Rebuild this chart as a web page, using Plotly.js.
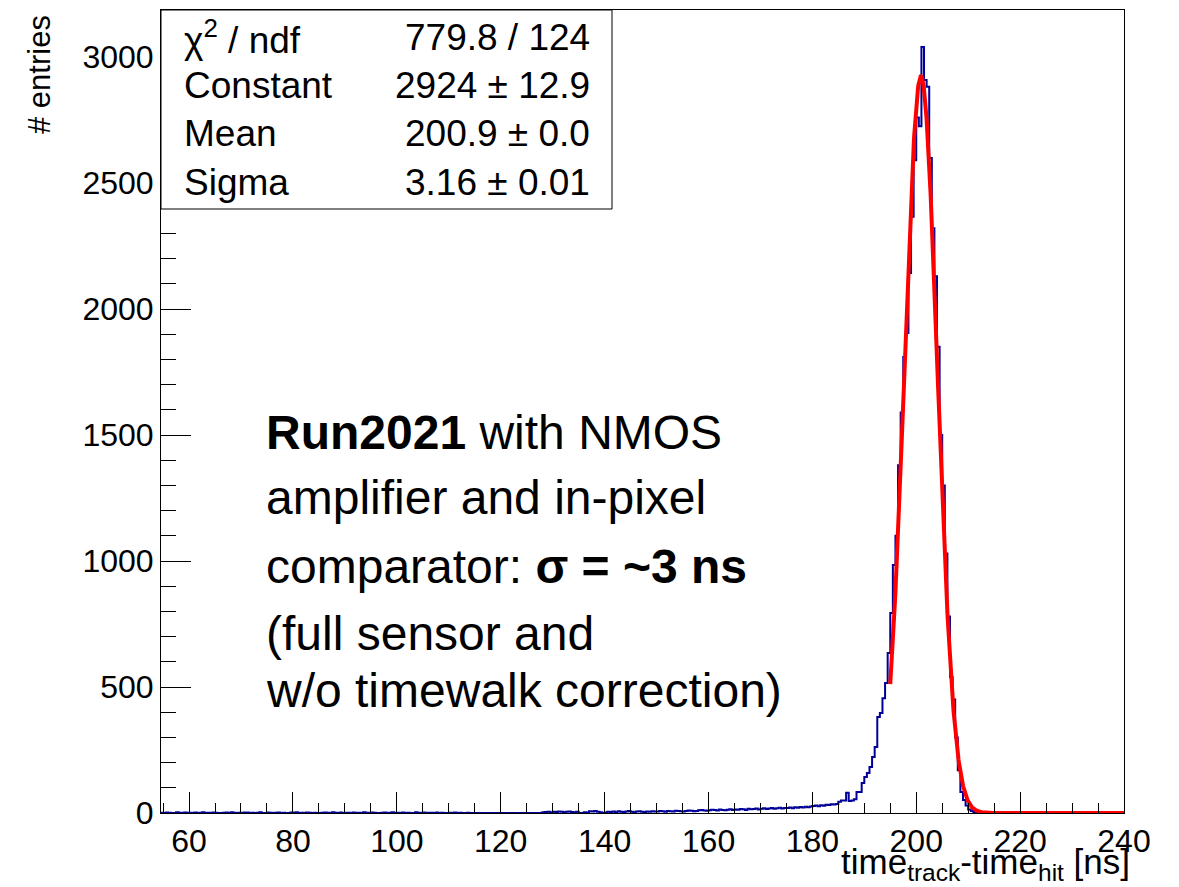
<!DOCTYPE html>
<html>
<head>
<meta charset="utf-8">
<script src="https://cdn.plot.ly/plotly-3.0.1.min.js"></script>
<style>html,body{margin:0;padding:0;background:#fff;}#chart{width:1179px;height:887px;}</style>
</head>
<body>
<div id="chart"></div>
<script>
// ---- data (bin width 0.5 ns; each segment gives its first bin's left edge) ----
const binWidth = 0.5;
const segA_start = 54.5;
const segA = [1,0,2,1,0,0,3,1,0,2, 1,1,0,2,0,1,3,0,1,0, 2,1,0,0,1,2,0,3,1,0, 1,0,2,2,0,1,0,1,3,0, 0,2,1,0,1,2,0,1,0,0, 2,1,3,0,1,0,2,1,0,1, 0,0,1,2,1,0,3,1,0,2, 0,1,1,0,2,0,1,0,3,1, 0,2,1,0,0,1,2,0,1,3, 0];
const segB_start = 100;
const segB = [1,0,2,0,1,0,0,3,1,0, 2,0,1,1,0,2,0,1,0,0, 1,0,2,0,1,0,0,1,0,0, 0,0,0,0,0,0,0,0,0,0, 0,0,0,0,0,0,0,0,0,0, 0,0,0,0,0,0,3,4,5,2];
const segC_start = 130;
const segC = [5,4,6,5,3,5,6,4,2,5, 0,0,3,2,7,6,8,5,3,0, 2,5,4,6,3,7,5,4,6,8, 5,3,6,7,5,4,6,5,7,6];
const segD_start = 150;
const segD = [6,8,7,5,8,7,6,9,8,7, 6,8,10,9,7,8,11,12,10,9, 11,13,12,10,14,12,11,13,15,12];
const segE_start = 165;
const segE = [14,13,16,15,12,17,15,16,18,14, 17,19,16,18,20,17,19,21,18,20];
const segF_start = 175;
const segF = [20,22,19,23,21,24,22,25,23,26, 28,30,27,31,29,33,32,35,34,36];
const segG_start = 185;
const segG = [45,50,50,80,48,50,55,83,83,119, 143,159,183,222,262,381,397,455,516,635];
const segH_start = 195;
const segH = [794,984,1100,1380,1590,1810,1905,2143,2366,2591, 2760,2726,3040,2909,2882,2600,2321,2130,1850,1500, 1300,1030,780,540,450,300,170,83,52,30, 14,8,4,2,1];
const segI_start = 212.5;
const segI = [0,0,0,0,0,0,0,0,0,0, 0,0,0,0,0,0,0,0,0,0, 0,0,0,0,0,0,0,0,0,0, 0,0,0,0,0,0,0,0,0,0, 0,0,0,0,0,0,0,0,0,0, 0,0,0,0,0];
const histEnd = 240;

// fit result (as printed in the stats box)
const fitConstant = 2924, fitMean = 200.9, fitSigma = 3.16;
const fitRange = [195, 240];

const statsLabels = ["χ<sup>2</sup> / ndf", "Constant", "Mean", "Sigma"];
const statsValues = ["779.8 / 124", "2924 ± 12.9", "200.9 ± 0.0", "3.16 ± 0.01"];

const xTickVals = [60, 80, 100, 120, 140, 160, 180, 200, 220, 240];
const yTickVals = [0, 500, 1000, 1500, 2000, 2500, 3000];

const noteLines = [
  "<b>Run2021</b> with NMOS",
  "amplifier and in-pixel",
  "comparator: <b>σ = ~3 ns</b>",
  "(full sensor and",
  "w/o timewalk correction)"
];

// ---- build step histogram ----
const segs = [[segA_start, segA],[segB_start, segB],[segC_start, segC],[segD_start, segD],
              [segE_start, segE],[segF_start, segF],[segG_start, segG],[segH_start, segH],[segI_start, segI]];
const hx = [], hy = [];
segs.forEach(([s, vals]) => vals.forEach((v, i) => { hx.push(s + i*binWidth); hy.push(v); }));
hx.push(histEnd); hy.push(hy[hy.length-1]);

const fx = [], fy = [];
for (let x = fitRange[0]; x <= fitRange[1] + 1e-9; x += 0.05) {
  fx.push(x);
  fy.push(fitConstant * Math.exp(-0.5 * Math.pow((x - fitMean) / fitSigma, 2)));
}

const FONT = "Liberation Sans, Arial, Helvetica, sans-serif";

const traces = [
  {x: hx, y: hy, type: 'scatter', mode: 'lines', line: {shape: 'hv', color: '#000099', width: 2}, hoverinfo: 'skip'},
  {x: fx, y: fy, type: 'scatter', mode: 'lines', line: {color: '#ff0000', width: 4}, hoverinfo: 'skip'}
];

// plot area in pixels: x 161..1124, y 10..813
const L = 161, R = 1124, T = 10, B = 813;
const px = v => (v - L) / (R - L);
const py = v => (B - v) / (B - T);

const annotations = [];
const rowY = [37, 85, 134, 183];
statsLabels.forEach((t, i) => annotations.push({xref:'paper', yref:'paper', x: px(182), y: py(rowY[i]), xanchor:'left', yanchor:'middle', text: t, showarrow:false, font:{family:FONT, size:37, color:'#000'}}));
statsValues.forEach((t, i) => annotations.push({xref:'paper', yref:'paper', x: px(592), y: py(rowY[i]), xanchor:'right', yanchor:'middle', text: t, showarrow:false, font:{family:FONT, size:37, color:'#000'}}));
const noteY = [432, 497, 566, 633, 690];
noteLines.forEach((t, i) => annotations.push({xref:'paper', yref:'paper', x: px(264), y: py(noteY[i]), xanchor:'left', yanchor:'middle', text: t, showarrow:false, font:{family:FONT, size:48, color:'#000'}}));
annotations.push({xref:'paper', yref:'paper', x: px(40), y: py(75), xanchor:'center', yanchor:'middle', textangle:-90, text:'# entries', showarrow:false, font:{family:FONT, size:31, color:'#000'}});
annotations.push({xref:'paper', yref:'paper', x: px(1132), y: py(864), xanchor:'right', yanchor:'middle', text:'time<sub>track</sub>-time<sub>hit</sub> [ns]', showarrow:false, font:{family:FONT, size:35, color:'#000'}});

const layout = {
  width: 1179, height: 887,
  margin: {l: L, r: 1179 - R, t: T, b: 887 - B, pad: 0},
  paper_bgcolor: '#fff', plot_bgcolor: '#fff',
  showlegend: false,
  xaxis: {
    range: [54.6, 240], tickmode: 'array', tickvals: xTickVals, ticktext: xTickVals.map(String),
    ticks: 'inside', ticklen: 21, tickwidth: 1, tickcolor: '#000',
    showline: true, linecolor: '#000', linewidth: 1, mirror: true,
    showgrid: false, zeroline: false,
    tickfont: {family: FONT, size: 32, color: '#000'},
    minor: {ticks: 'inside', ticklen: 10, tickwidth: 1, tickcolor: '#000', dtick: 5, tick0: 0, showgrid: false}
  },
  yaxis: {
    range: [0, 3187], tickmode: 'array', tickvals: yTickVals, ticktext: yTickVals.map(String),
    ticks: 'inside', ticklen: 30, tickwidth: 1, tickcolor: '#000',
    showline: true, linecolor: '#000', linewidth: 1, mirror: true,
    showgrid: false, zeroline: false,
    tickfont: {family: FONT, size: 32, color: '#000'},
    minor: {ticks: 'inside', ticklen: 15, tickwidth: 1, tickcolor: '#000', dtick: 100, tick0: 0, showgrid: false}
  },
  shapes: [
    {type: 'rect', xref: 'paper', yref: 'paper', x0: 0, x1: px(612), y0: py(209), y1: 1, fillcolor: '#fff', line: {color: '#000', width: 1}, layer: 'above'}
  ],
  annotations: annotations
};

Plotly.newPlot('chart', traces, layout, {staticPlot: true, displayModeBar: false});
</script>
</body>
</html>
